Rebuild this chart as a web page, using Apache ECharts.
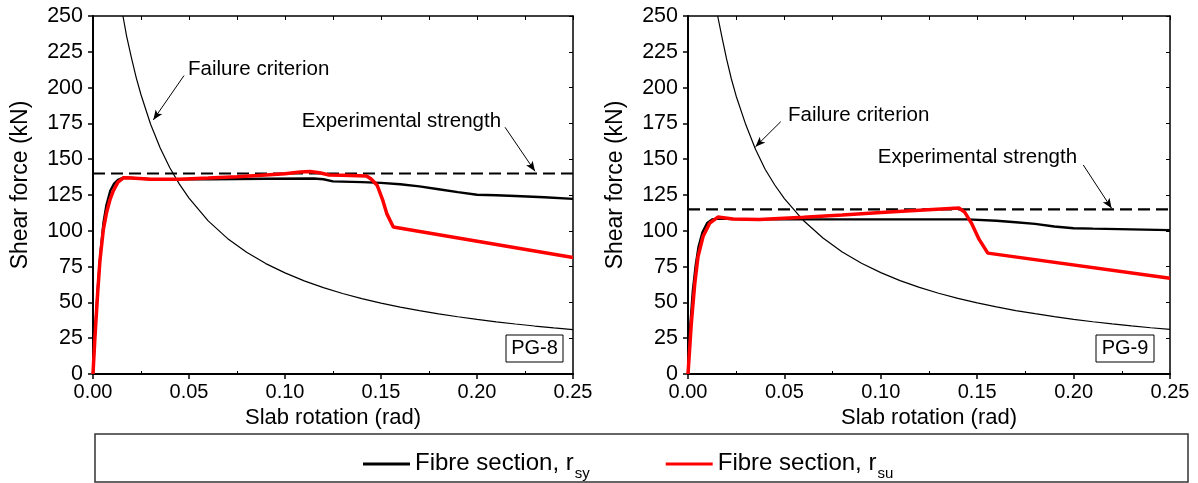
<!DOCTYPE html>
<html><head><meta charset="utf-8">
<script src="https://cdn.jsdelivr.net/npm/echarts@6/dist/echarts.min.js"></script>
<style>html,body{margin:0;padding:0;background:#fff}#c{width:1198px;height:483px}</style>
</head><body><div id="c"></div>
<script>
// ---------- data ----------
const panelLabels = ['PG-8', 'PG-9'];
const seriesNames = ['Fibre section, r_sy', 'Fibre section, r_su'];
const legendMain = ['Fibre section, r', 'Fibre section, r'];
const legendSub = ['sy', 'su'];
const xTickValues = [0, 0.05, 0.10, 0.15, 0.20, 0.25];
const yTickValues = [0, 25, 50, 75, 100, 125, 150, 175, 200, 225, 250];
const expStrength = [140, 115];

// PG-8
const pg8_rsy = [[0,0],[0.001,28],[0.0025,60],[0.004,86],[0.0055,106],[0.007,118],[0.009,128],[0.011,133],[0.013,135.5],[0.0155,137],[0.018,137],[0.03,136],[0.06,136],[0.09,136.3],[0.115,136.5],[0.12,136],[0.125,134.5],[0.14,134],[0.15,133.5],[0.16,132.5],[0.17,131],[0.18,129],[0.19,127],[0.2,125.2],[0.21,124.8],[0.22,124.3],[0.235,123.4],[0.25,122.3]];
const pg8_rsu = [[0,0],[0.0009,23],[0.0024,56],[0.0036,79],[0.0054,101],[0.0071,113],[0.0089,122],[0.0106,128],[0.013,134],[0.0158,137],[0.02,136.8],[0.03,136],[0.045,136],[0.06,136.8],[0.075,137.8],[0.09,139],[0.1,139.8],[0.108,141],[0.113,141.4],[0.118,140.5],[0.123,139],[0.13,138.8],[0.1425,138.3],[0.145,136],[0.148,131.8],[0.151,121],[0.153,112],[0.1564,102.6],[0.25,81.4]];
const pg8_fail = [[0.0156,250],[0.0175,236],[0.02,221],[0.0225,207],[0.025,195],[0.03,174.4],[0.035,157.8],[0.04,144],[0.045,132.6],[0.05,122.8],[0.06,106.9],[0.07,94.7],[0.08,85],[0.09,77.1],[0.1,70.6],[0.11,65],[0.12,60.3],[0.13,56.2],[0.14,52.6],[0.15,49.5],[0.16,46.7],[0.17,44.2],[0.18,42],[0.19,40],[0.2,38.1],[0.21,36.4],[0.22,34.9],[0.23,33.5],[0.24,32.2],[0.25,31]];

// PG-9
const pg9_rsy = [[0,0],[0.001,30],[0.0025,58],[0.004,76],[0.0055,89],[0.0075,99],[0.01,105.5],[0.0125,108],[0.015,108.5],[0.03,108],[0.08,108],[0.12,108],[0.145,108],[0.16,107],[0.17,106],[0.18,104.8],[0.19,103],[0.2,101.8],[0.21,101.5],[0.23,101],[0.25,100.5]];
const pg9_rsu = [[0,0],[0.0017,35],[0.0035,63],[0.0052,82],[0.0078,96],[0.0113,105.4],[0.0155,109.6],[0.0233,108.2],[0.037,107.9],[0.06,109.5],[0.08,111],[0.1,112.8],[0.12,114.4],[0.1405,115.9],[0.1435,113],[0.147,105.4],[0.151,94],[0.1555,84.4],[0.25,66.9]];
const pg9_fail = [[0.0154,250],[0.0175,236],[0.02,220],[0.0225,206],[0.025,194],[0.03,174],[0.035,157],[0.04,143],[0.045,132],[0.05,122.5],[0.06,107],[0.07,95],[0.08,85.2],[0.09,77.3],[0.1,70.8],[0.11,65.2],[0.12,60.5],[0.13,56.4],[0.14,52.8],[0.15,49.7],[0.16,46.9],[0.17,44.3],[0.18,42.1],[0.19,40.1],[0.2,38.2],[0.21,36.5],[0.22,35],[0.23,33.6],[0.24,32.3],[0.25,31.1]];

// annotation anchors (data coordinates)
const annFailText = [[0.0495, 212.6], [0.0519, 180.9]];
const annFailArrow = [[[0.0474, 208.4], [0.0314, 177.4]], [[0.0481, 176.2], [0.035, 158.7]]];
const annExpText = [[0.1087, 176.5], [0.0984, 151.3]];
const annExpArrow = [[[0.2146, 172.3], [0.2302, 141.6]], [[0.205, 146], [0.2197, 115.7]]];

const panels = [
  { rsy: pg8_rsy, rsu: pg8_rsu, fail: pg8_fail },
  { rsy: pg9_rsy, rsu: pg9_rsu, fail: pg9_fail }
];

// ---------- chart ----------
const FONT = 'Liberation Sans, Arial, Helvetica, sans-serif';
const chart = echarts.init(document.getElementById('c'), null, { renderer: 'canvas' });

const grids = [
  { left: 93, top: 16, width: 480, height: 358 },
  { left: 688, top: 16, width: 482, height: 358 }
];

function arrowLine(seg) {
  return {
    silent: true, animation: false, symbol: ['none', 'arrow'], symbolSize: 10,
    label: { show: false }, lineStyle: { color: '#000', width: 1, type: 'solid' },
    data: [[{ coord: seg[0], symbol: 'none' }, { coord: seg[1], symbol: 'arrow', symbolSize: [6, 10] }]]
  };
}
function annText(coord, text) {
  return {
    symbol: 'circle', symbolSize: 0, silent: true, animation: false,
    label: { show: true, position: 'right', distance: 0, color: '#000', fontSize: 20.5, fontFamily: FONT,
      formatter: text },
    data: [{ coord: coord }]
  };
}

const xAxes = [], yAxes = [], series = [];
grids.forEach((g, i) => {
  xAxes.push({
    gridIndex: i, type: 'value', position: 'bottom', min: 0, max: 0.25, interval: 0.05,
    axisLine: { show: true, onZero: false, lineStyle: { color: '#000', width: 2 } },
    axisTick: { show: true, inside: false, length: 5, lineStyle: { color: '#000', width: 1.5 } },
    minorTick: { show: true, splitNumber: 2, length: -3, lineStyle: { color: '#000', width: 1 } },
    axisLabel: { show: true, margin: 8, color: '#000', fontSize: 20, fontFamily: FONT,
      formatter: v => xTickValues.some(t => Math.abs(t - v) < 1e-9) ? v.toFixed(2) : '' },
    splitLine: { show: false },
    name: 'Slab rotation (rad)', nameLocation: 'middle', nameGap: 28,
    nameTextStyle: { color: '#000', fontSize: 22, fontFamily: FONT }
  });
  xAxes.push({
    gridIndex: i, type: 'value', position: 'top', min: 0, max: 0.25, interval: 0.025,
    axisLine: { show: true, onZero: false, lineStyle: { color: '#000', width: 1.5 } },
    axisTick: { show: true, inside: true, length: 4, lineStyle: { color: '#000', width: 1 } },
    axisLabel: { show: false }, splitLine: { show: false }
  });
  yAxes.push({
    gridIndex: i, type: 'value', position: 'left', min: 0, max: 250, interval: 25,
    axisLine: { show: true, onZero: false, lineStyle: { color: '#000', width: 2 } },
    axisTick: { show: true, inside: false, length: 5, lineStyle: { color: '#000', width: 1.5 } },
    axisLabel: { show: true, margin: 10, color: '#000', fontSize: 21.5, fontFamily: FONT,
      formatter: v => yTickValues.includes(v) ? String(v) : '' },
    splitLine: { show: false },
    name: 'Shear force (kN)', nameLocation: 'middle', nameGap: 61, nameRotate: 90,
    nameTextStyle: { color: '#000', fontSize: 23, fontFamily: FONT, padding: [0, 0, 0, 20] }
  });
  yAxes.push({
    gridIndex: i, type: 'value', position: 'right', min: 0, max: 250, interval: 25,
    axisLine: { show: true, onZero: false, lineStyle: { color: '#000', width: 1.5 } },
    axisTick: { show: true, inside: true, length: 4, lineStyle: { color: '#000', width: 1 } },
    axisLabel: { show: false }, splitLine: { show: false }
  });

  const xi = i * 2, yi = i * 2;
  const p = panels[i];
  series.push({
    name: 'Failure criterion', type: 'line', xAxisIndex: xi, yAxisIndex: yi,
    data: p.fail, showSymbol: false, silent: true, z: 2,
    lineStyle: { color: '#000', width: 1.2 },
    markPoint: annText(annFailText[i], 'Failure criterion'),
    markLine: arrowLine(annFailArrow[i])
  });
  series.push({
    name: 'Experimental strength', type: 'line', xAxisIndex: xi, yAxisIndex: yi,
    data: [[0, expStrength[i]], [0.25, expStrength[i]]], showSymbol: false, silent: true, z: 2,
    lineStyle: { color: '#000', width: 2.2, type: [12, 6] },
    markPoint: annText(annExpText[i], 'Experimental strength'),
    markLine: arrowLine(annExpArrow[i])
  });
  series.push({
    name: seriesNames[0], type: 'line', xAxisIndex: xi, yAxisIndex: yi,
    data: p.rsy, showSymbol: false, z: 3, color: '#000',
    lineStyle: { color: '#000', width: 2.4 }
  });
  series.push({
    name: seriesNames[1], type: 'line', xAxisIndex: xi, yAxisIndex: yi,
    data: p.rsu, showSymbol: false, z: 4, color: '#ff0000',
    lineStyle: { color: '#ff0000', width: 3.5 }
  });
});

const option = {
  animation: false,
  backgroundColor: '#fff',
  grid: grids,
  xAxis: xAxes,
  yAxis: yAxes,
  series: series,
  legend: {
    data: seriesNames, left: 358, top: 446, icon: 'rect', itemWidth: 47, itemHeight: 3,
    itemGap: 76, selectedMode: false,
    formatter: name => {
      const k = seriesNames.indexOf(name);
      return '{m|' + legendMain[k] + '}{s|' + legendSub[k] + '}';
    },
    textStyle: {
      color: '#000', fontFamily: FONT,
      rich: {
        m: { fontSize: 24, fontFamily: FONT, color: '#000', lineHeight: 26, verticalAlign: 'top' },
        s: { fontSize: 15, fontFamily: FONT, color: '#000', lineHeight: 16, padding: [15, 0, 0, 1], verticalAlign: 'top' }
      }
    }
  },
  graphic: [
    { type: 'rect', silent: true, shape: { x: 95, y: 434, width: 1093, height: 48 },
      style: { fill: 'none', stroke: '#333', lineWidth: 1.5 } },
    { type: 'group', silent: true, children: [
      { type: 'rect', shape: { x: 506, y: 335, width: 57, height: 27 }, style: { fill: '#fff', stroke: '#000', lineWidth: 1 } },
      { type: 'text', x: 534.5, y: 348.5, style: { text: panelLabels[0], fill: '#000', font: '20px ' + FONT, textAlign: 'center', textVerticalAlign: 'middle' } },
      { type: 'rect', shape: { x: 1096, y: 335, width: 58, height: 27 }, style: { fill: '#fff', stroke: '#000', lineWidth: 1 } },
      { type: 'text', x: 1125, y: 348.5, style: { text: panelLabels[1], fill: '#000', font: '20px ' + FONT, textAlign: 'center', textVerticalAlign: 'middle' } }
    ]}
  ]
};
chart.setOption(option);
</script></body></html>
